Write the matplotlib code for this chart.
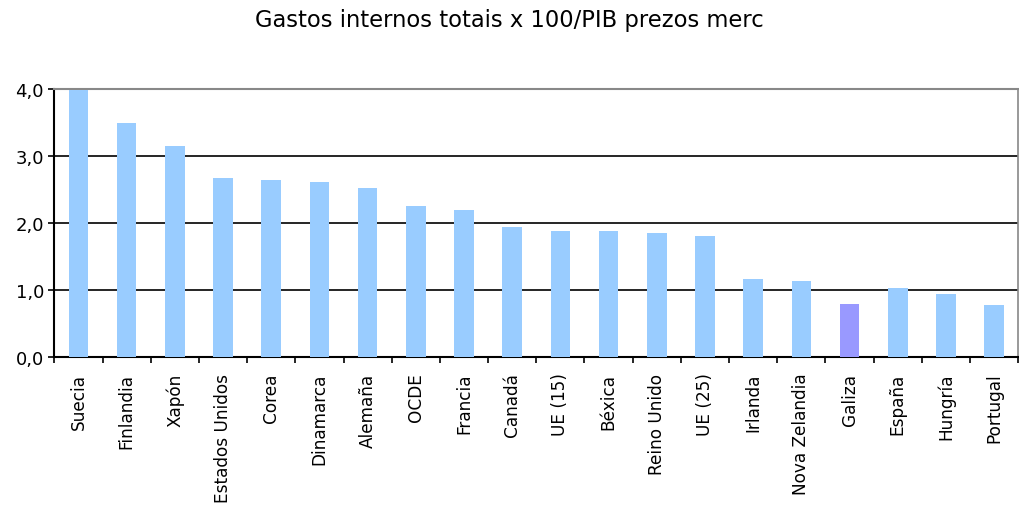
import numpy as np
import matplotlib.pyplot as plt
from matplotlib.ticker import FixedLocator, FuncFormatter

plt.rcParams['font.family'] = 'DejaVu Sans'

paises = ['Suecia', 'Finlandia', 'Xapón', 'Estados Unidos', 'Corea', 'Dinamarca',
          'Alemaña', 'OCDE', 'Francia', 'Canadá', 'UE (15)', 'Béxica',
          'Reino Unido', 'UE (25)', 'Irlanda', 'Nova Zelandia', 'Galiza',
          'España', 'Hungría', 'Portugal']
gasto = [3.98, 3.50, 3.15, 2.67, 2.64, 2.61, 2.52, 2.25, 2.19, 1.95, 1.89, 1.89,
         1.86, 1.81, 1.17, 1.14, 0.80, 1.04, 0.95, 0.78]

cor = ['#9999FF' if p == 'Galiza' else '#99CCFF' for p in paises]

fig = plt.figure(figsize=(10.19, 5.06), dpi=100)
ax = fig.add_axes([0.0533, 0.2919, 0.9460, 0.5302])

x = np.arange(len(paises))
ax.bar(x, gasto, width=0.41, color=cor, zorder=3)

ax.set_xlim(-0.5, len(paises) - 0.5)
ax.set_ylim(0, 4)
ax.set_yticks([0, 1, 2, 3, 4])
ax.yaxis.set_major_formatter(FuncFormatter(lambda v, p: f'{v:.1f}'.replace('.', ',')))
for v in [1, 2, 3]:
    ax.axhline(v, color='black', lw=1.2, zorder=2)

# etiquetas no centro, marcas entre categorias
ax.set_xticks(x)
ax.set_xticklabels(paises, rotation=90, fontsize=12.2)
ax.tick_params(axis='x', which='major', length=0, pad=11)
ax.xaxis.set_minor_locator(FixedLocator(np.arange(len(paises) + 1) - 0.5))
ax.tick_params(axis='x', which='minor', length=4.5, width=1.2, direction='out')
ax.tick_params(axis='y', length=4.5, width=1.2, labelsize=13, pad=3)

ax.spines['left'].set_linewidth(1.5)
ax.spines['bottom'].set_linewidth(1.5)
ax.spines['top'].set_color('#888888')
ax.spines['top'].set_linewidth(1.5)
ax.spines['right'].set_color('#888888')
ax.spines['right'].set_linewidth(1.2)

fig.text(0.5, 0.96, 'Gastos internos totais x 100/PIB prezos merc',
         ha='center', va='center', fontsize=16.3)

fig.savefig('out.png', dpi=100)
